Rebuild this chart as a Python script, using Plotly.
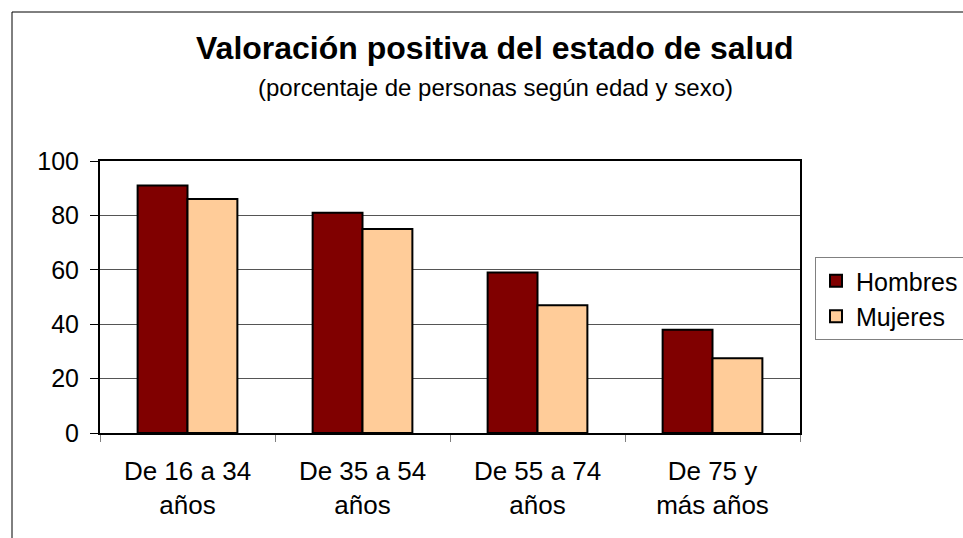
import plotly.graph_objects as go

categories = ["De 16 a 34<br>años", "De 35 a 54<br>años", "De 55 a 74<br>años", "De 75 y<br>más años"]
hombres = [91, 81, 59, 38]
mujeres = [86, 75, 47, 27.5]
series_names = ["Hombres", "Mujeres"]
title_text = "Valoración positiva del estado de salud"
subtitle_text = "(porcentaje de personas según edad y sexo)"
y_ticks = [0, 20, 40, 60, 80, 100]

FONT = "Liberation Sans, Arial, sans-serif"

fig = go.Figure()
fig.add_trace(go.Bar(x=categories, y=hombres, name=series_names[0],
                     marker=dict(color="#800000", line=dict(color="black", width=2))))
fig.add_trace(go.Bar(x=categories, y=mujeres, name=series_names[1],
                     marker=dict(color="#FFCC99", line=dict(color="black", width=2))))

W, H = 963, 538
L, R, T, B = 100, 163, 161, 105
pw, ph = W - L - R, H - T - B

def px(x):
    return (x - L) / pw

def py(y):
    return (H - B - y) / ph

fig.update_layout(
    width=W, height=H,
    margin=dict(l=L, r=R, t=T, b=B, autoexpand=False),
    paper_bgcolor="white", plot_bgcolor="white",
    font=dict(family=FONT, size=26, color="black"),
    barmode="group", bargap=0.43, bargroupgap=0,
    showlegend=True,
    legend=dict(x=px(815), y=py(257), xanchor="left", yanchor="top",
                bordercolor="#808080", borderwidth=1, bgcolor="white",
                font=dict(family=FONT, size=25, color="black")),
    annotations=[
        dict(text="<b>" + title_text + "</b>", x=px(495), y=py(48), xref="paper", yref="paper",
             xanchor="center", yanchor="middle", showarrow=False,
             font=dict(family=FONT, size=32, color="black")),
        dict(text=subtitle_text, x=px(495), y=py(87), xref="paper", yref="paper",
             xanchor="center", yanchor="middle", showarrow=False,
             font=dict(family=FONT, size=24, color="black")),
    ],
    shapes=[
        dict(type="rect", xref="paper", yref="paper",
             x0=px(12), x1=px(990), y0=py(560), y1=py(12),
             line=dict(color="black", width=1), fillcolor="rgba(0,0,0,0)", layer="below"),
    ],
)

fig.update_xaxes(
    showline=True, linecolor="black", linewidth=2, mirror=True,
    ticks="outside", tickson="boundaries", ticklen=7, tickcolor="#808080", tickwidth=1,
    ticklabelstandoff=14,
    showgrid=False, tickfont=dict(family=FONT, size=26, color="black"),
)
fig.update_yaxes(
    range=[0, 100], tickvals=y_ticks,
    showline=True, linecolor="black", linewidth=2, mirror=True,
    ticks="outside", ticklen=8, tickcolor="black", tickwidth=1,
    ticklabelstandoff=6,
    showgrid=True, gridcolor="#555555", gridwidth=1, zeroline=False,
    tickfont=dict(family=FONT, size=25, color="black"),
)

fig.write_html("out.html", config={"displayModeBar": False},
               post_script="document.body.style.margin='0px';")
